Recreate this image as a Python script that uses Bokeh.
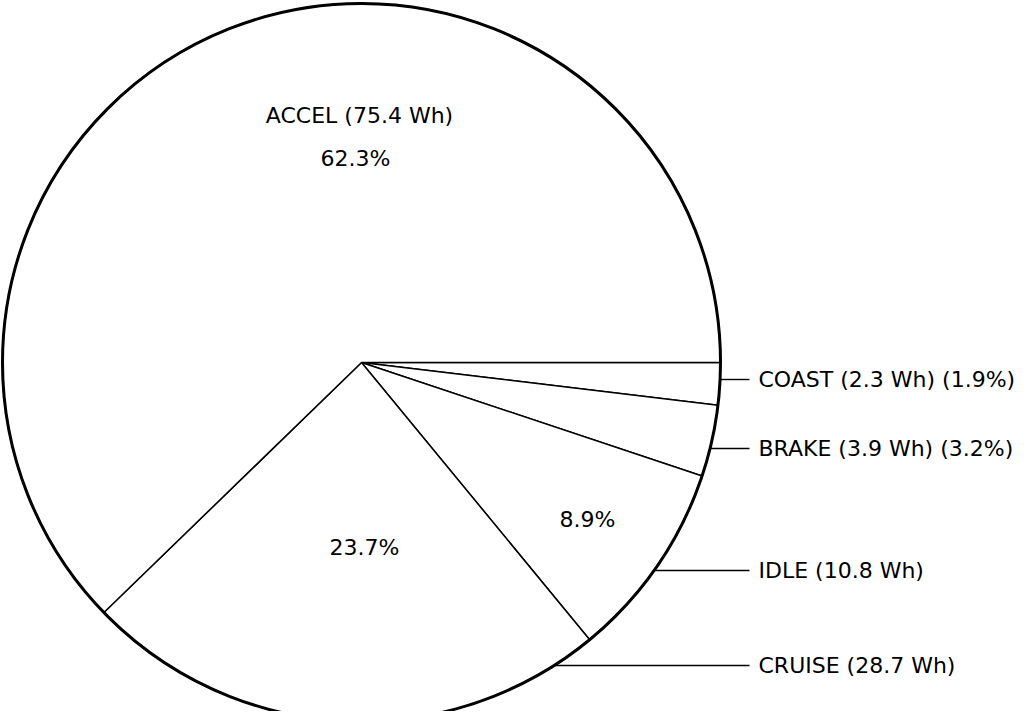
import numpy as np
from bokeh.plotting import figure
from bokeh.models import Range1d, ColumnDataSource
from bokeh.core.properties import value
from bokeh.embed import file_html
from bokeh.resources import INLINE

# ---- data (clockwise from 3 o'clock) ----
categories = ["COAST", "BRAKE", "IDLE", "CRUISE", "ACCEL"]
energy_wh = [2.3, 3.9, 10.8, 28.7, 75.4]
percent_labels = ["1.9%", "3.2%", "8.9%", "23.7%", "62.3%"]

FONT = value("DejaVu Sans")
FS = "22px"

W, H = 1016, 711
p = figure(width=W, height=H, output_backend="svg", toolbar_location=None,
           x_range=Range1d(8, 8 + W), y_range=Range1d(8, 8 + H),
           min_border=0, min_border_left=0, min_border_right=0,
           min_border_top=0, min_border_bottom=0)
p.axis.visible = False
p.grid.visible = False
p.outline_line_color = None
p.background_fill_color = "white"
p.border_fill_color = "white"

def Y(screen_y):
    return 727 - screen_y

cx, cy, r = 369, Y(370), 359

vals = np.array(energy_wh)
frac = vals / vals.sum()
ends = -2 * np.pi * np.cumsum(frac)
starts = np.concatenate([[0.0], ends[:-1]])

src = ColumnDataSource(dict(x=[cx] * len(vals), y=[cy] * len(vals),
                            start=starts, end=ends, cat=categories))
p.wedge(x="x", y="y", radius=r, start_angle="start", end_angle="end",
        direction="clock", source=src, fill_color="white",
        line_color="black", line_width=1.5)
p.circle(x=[cx], y=[cy], radius=r, fill_color=None, line_color="black",
         line_width=3)

# outside labels with leader lines
out_y = [387, 456, 578, 673]
out_text = [
    f"{categories[0]} ({energy_wh[0]} Wh) ({percent_labels[0]})",
    f"{categories[1]} ({energy_wh[1]} Wh) ({percent_labels[1]})",
    f"{categories[2]} ({energy_wh[2]} Wh)",
    f"{categories[3]} ({energy_wh[3]} Wh)",
]
lx0 = [cx + np.sqrt(r ** 2 - (Y(sy) - cy) ** 2) for sy in out_y]
p.segment(x0=lx0, y0=[Y(v) for v in out_y], x1=[757] * 4,
          y1=[Y(v) for v in out_y], line_color="black", line_width=1.4)
p.text(x=[766] * 4, y=[Y(v) for v in out_y], text=out_text,
       text_font=FONT, text_font_size=FS, text_baseline="middle",
       text_align="left", text_color="black")

# inside labels
in_text = [f"{categories[4]} ({energy_wh[4]} Wh)", percent_labels[4],
           percent_labels[3], percent_labels[2]]
in_x = [367, 363, 372, 595]
in_y = [123, 166, 555, 527]
p.text(x=in_x, y=[Y(v) for v in in_y], text=in_text, text_font=FONT,
       text_font_size=FS, text_baseline="middle", text_align="center",
       text_color="black")

open("out.html", "w").write(file_html(p, INLINE))
